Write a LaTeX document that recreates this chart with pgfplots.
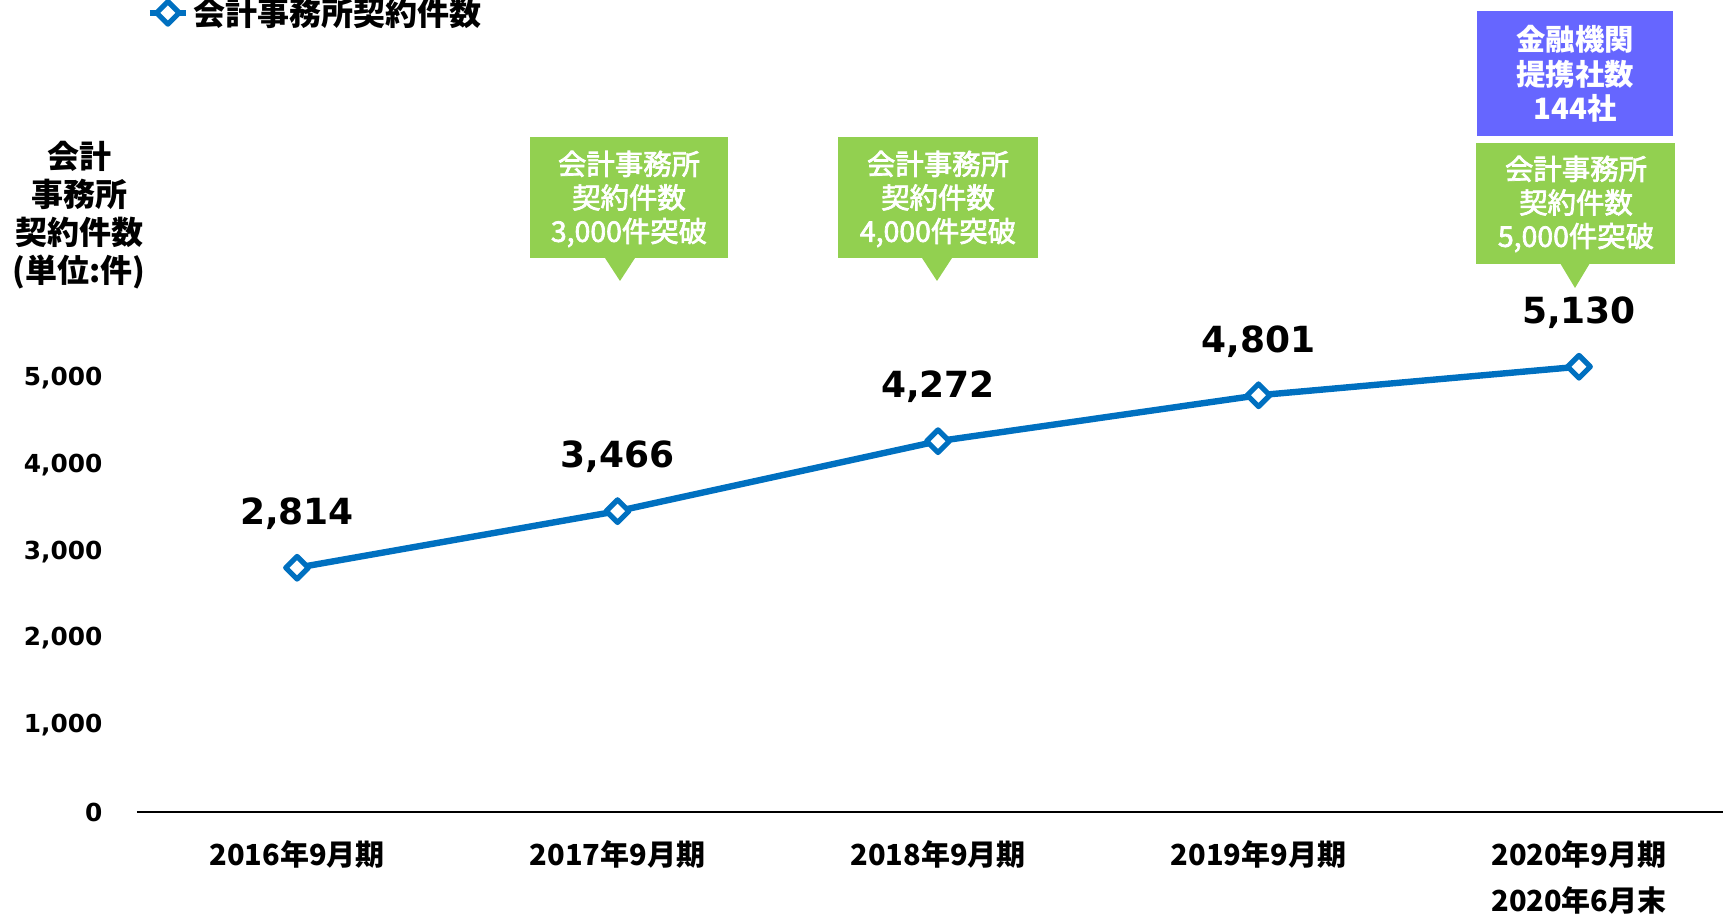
\documentclass[border=0pt]{standalone}
\usepackage{fontspec}
\setmainfont{DejaVu Sans}
\newfontfamily\jp{Noto Sans CJK JP}
\newfontfamily\jpsemi[FakeBold=2.5]{Noto Sans CJK JP}
\usepackage{pgfplots}
\pgfplotsset{compat=1.18}
\definecolor{lineblue}{HTML}{0070C0}
\definecolor{callgreen}{HTML}{92D050}
\definecolor{callpurple}{HTML}{6666FF}
\begin{document}
\begin{tikzpicture}
\begin{axis}[
  at={(68.4pt,51pt)}, anchor=south west,
  scale only axis, width=793.2pt, height=238.7pt,
  xmin=-0.5, xmax=4.45, ymin=0, ymax=5500,
  clip=false,
  axis x line*=bottom, axis y line*=left,
  y axis line style={draw=none},
  x axis line style={black, line width=1pt, -},
  major tick length=0pt, tick style={draw=none},
  xtick={0,1,2,3,4},
  xticklabels={2016年9月期,2017年9月期,2018年9月期,2019年9月期,{2020年9月期\\2020年6月末}},
  xticklabel style={font=\jp\bfseries\fontsize{14.5}{23}\selectfont, align=center, anchor=north, inner sep=0pt, yshift=-14pt},
  ytick={0,1000,2000,3000,4000,5000},
  yticklabel style={font=\bfseries\fontsize{12.4}{14}\selectfont, anchor=east, inner sep=0pt, xshift=-17pt},
  /pgf/number format/.cd, 1000 sep={,}, assume math mode=true, /pgfplots/.cd,
  ylabel={会計\\事務所\\契約件数\\(単位:件)},
  ylabel style={rotate=-90, anchor=center, align=center, at={(axis description cs:-0.0364,1.2505)}, font=\jp\bfseries\fontsize{16}{19.1}\selectfont},
  legend style={draw=none, fill=none, at={(axis description cs:0.006,1.674)}, anchor=west, inner sep=0pt, font=\jp\bfseries\fontsize{16}{16}\selectfont},
  legend image code/.code={\draw[mark repeat=2,mark phase=2,#1] plot coordinates {(0pt,0pt) (9pt,0pt) (18pt,0pt)};},
  nodes near coords,
  every node near coord/.append style={font=\bfseries\fontsize{18}{18}\selectfont, black, anchor=center, yshift=27pt},
]
\addplot[color=lineblue, line width=3.2pt, line join=round, mark=square*, mark size=4pt,
  mark options={rotate=45, fill=white, draw=lineblue, line width=2.6pt, solid, line join=round}]
  coordinates {(0,2814) (1,3466) (2,4272) (3,4801) (4,5130)};
\addlegendentry{会計事務所契約件数}
\end{axis}
\begin{scope}[shift={(0pt,457pt)}, x=0.5pt, y=-0.5pt]
  % callout 1
  \fill[callgreen] (530,137.5) rectangle (728,258.5);
  \fill[callgreen] (605,258) -- (635,258) -- (620,281) -- cycle;
  \node[white, align=center, font=\jpsemi\fontsize{14.2}{16.8}\selectfont] at (629,199) {会計事務所\\契約件数\\3,000件突破};
  % callout 2
  \fill[callgreen] (838,137.5) rectangle (1037.5,258.5);
  \fill[callgreen] (922,258) -- (952,258) -- (937,281) -- cycle;
  \node[white, align=center, font=\jpsemi\fontsize{14.2}{16.8}\selectfont] at (938,199) {会計事務所\\契約件数\\4,000件突破};
  % callout 3
  \fill[callgreen] (1476,143) rectangle (1675,264);
  \fill[callgreen] (1560,263) -- (1590,263) -- (1575,288) -- cycle;
  \node[white, align=center, font=\jpsemi\fontsize{14.2}{16.8}\selectfont] at (1576,204) {会計事務所\\契約件数\\5,000件突破};
  % purple box
  \fill[callpurple] (1477,11) rectangle (1673,136);
  \node[white, align=center, font=\jp\bfseries\fontsize{14.7}{17.3}\selectfont] at (1575,74) {金融機関\\提携社数\\144社};
\end{scope}
\pgfresetboundingbox
\useasboundingbox (0,0) rectangle (862.5pt,457pt);
\end{tikzpicture}
\end{document}
